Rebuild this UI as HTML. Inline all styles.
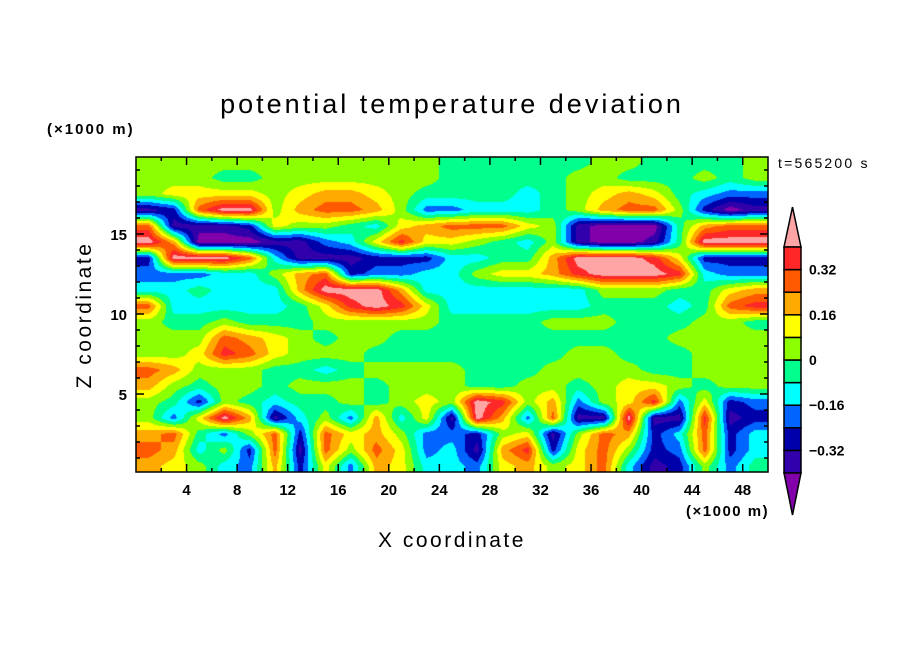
<!DOCTYPE html>
<html><head><meta charset="utf-8"><style>
html,body{margin:0;padding:0;background:#fff;}
body{width:904px;height:654px;position:relative;overflow:hidden;font-family:"Liberation Sans",sans-serif;}
svg text{font-family:"Liberation Sans",sans-serif;}
</style></head><body>
<svg id="chart" width="904" height="654" viewBox="0 0 904 654" xmlns="http://www.w3.org/2000/svg">
<rect width="904" height="654" fill="#fff"/>
<text x="452" y="113" text-anchor="middle" font-size="27" letter-spacing="3" fill="#000">potential temperature deviation</text>
<text x="47" y="134" font-size="15" font-weight="bold" letter-spacing="2" fill="#000">(×1000 m)</text>
<text x="778" y="168" font-size="14" letter-spacing="2.2" fill="#000">t=565200 s</text>
<foreignObject x="136" y="157" width="632" height="315"><canvas xmlns="http://www.w3.org/1999/xhtml" id="field" width="632" height="315" style="display:block"></canvas></foreignObject>
<g id="axes"></g>
<g id="cbar"></g>
<text x="686" y="516" font-size="15" font-weight="bold" letter-spacing="1.5" fill="#000">(×1000 m)</text>
<text x="452" y="547" text-anchor="middle" font-size="21" letter-spacing="2.5" fill="#000">X coordinate</text>
<text transform="translate(91,315) rotate(-90)" text-anchor="middle" font-size="21" letter-spacing="2.5" fill="#000">Z coordinate</text>
</svg>
<script>
// data: potential temperature deviation (units of 0.01 K), rows top (z=19.5 km) to bottom (z=0.5 km), 25 columns of 2 km
const levels = [-40,-32,-24,-16,-8,0,8,16,24,32,40];
const levelColors = ["#8200aa","#3200aa","#0000aa","#0064ff","#00ffff","#00ff8c","#8cff00","#ffff00","#ffaa00","#ff5a00","#ff2828","#ffa5a5"];
const cbarLabels = ["0.32","0.16","0","-0.16","-0.32"];
const cbarLabelValues = [32,16,0,-16,-32];
const xTicks = [4,8,12,16,20,24,28,32,36,40,44,48];
const yTicks = [5,10,15];
const field = [
[4,4,4,4,4,4,4,4,4,4,4,4,-4,-4,-4,-4,-4,-4,4,4,-4,-4,-4,-4,4],
[4,4,4,-4,-4,4,4,4,4,4,4,4,-4,-4,-4,-4,-4,4,4,-4,-4,-4,4,-4,4],
[4,12,12,12,12,4,12,20,20,12,4,-4,-4,-4,-4,-12,-4,4,12,20,12,-4,-12,-20,-20],
[-36,-28,28,45,45,4,20,28,28,20,4,-20,-20,-12,-12,-12,-4,4,20,28,28,4,-28,-45,-36],
[28,-36,-36,-36,-28,12,4,4,-4,-12,12,20,28,28,28,12,4,-36,-45,-45,-45,-4,20,28,28],
[45,20,-45,-45,-45,-36,-36,-20,-12,12,36,12,12,4,-4,-12,4,-36,-45,-45,-36,-4,45,45,45],
[-28,45,45,45,28,-12,-36,-36,-36,-28,-28,-28,-12,-12,-4,-4,20,45,45,45,36,12,-28,-28,-28],
[-20,-20,-20,-12,-12,4,20,28,-28,-20,-20,-12,-12,4,12,12,20,36,45,45,45,36,-12,-20,-20],
[-12,-12,-4,-12,-12,-12,20,45,45,45,20,-12,-12,-12,-12,-12,-12,-12,4,4,4,-4,-4,12,20],
[28,-12,-12,-12,-12,-12,-4,12,36,45,36,12,-12,-12,-12,-12,-12,-12,-4,-4,-4,-12,-4,28,36],
[4,-4,-4,4,-4,-4,-4,4,4,4,4,4,-4,-4,-4,-4,4,4,4,-4,-4,-4,4,4,-4],
[4,4,4,28,20,12,4,-4,4,4,-4,-4,-4,-4,-4,-4,-4,-4,-4,-4,-4,4,4,4,4],
[4,4,12,36,28,12,4,4,4,-4,-4,-4,-4,-4,-4,-4,-4,4,4,-4,-4,-4,4,4,4],
[28,20,4,4,4,-4,-4,-12,-4,4,4,4,4,-4,-4,-4,4,4,4,4,-4,-4,4,4,4],
[20,4,-4,4,4,-4,4,4,4,-4,4,4,4,-4,-4,4,4,-4,4,12,12,4,-4,4,4],
[4,-4,-28,4,-4,-12,-4,-4,4,-4,4,12,4,45,36,4,20,-20,4,12,36,-20,12,-28,-20],
[4,-20,12,45,20,-36,-12,4,-20,20,-12,12,-36,45,20,-20,28,-36,-36,45,-36,-36,36,-36,-28],
[20,28,-4,-20,4,28,-28,28,12,20,4,-20,-20,-28,4,12,-36,4,28,20,-28,-12,28,-28,-12],
[28,20,-12,4,-28,28,-36,28,4,28,12,-20,-12,-36,20,36,-28,12,28,4,-28,-20,28,-28,-12],
[20,12,4,-12,-20,20,-28,12,-20,20,12,-12,-12,-20,12,20,4,12,28,-12,-36,-28,4,-20,-4]
];

const PL=136, PT=157, PW=632, PH=315, PB=PT+PH;
const X0=0, X1=50;
function xScale(v){return PL + (v-X0)/(X1-X0)*PW;}
function zScale(v){return 474 - v*16;}
function colorFor(v){let k=0;while(k<levels.length && v>=levels[k])k++;return levelColors[k];}
function hexRgb(h){return [parseInt(h.substr(1,2),16),parseInt(h.substr(3,2),16),parseInt(h.substr(5,2),16)];}

const nR=field.length, nC=field[0].length;
const cvs=document.getElementById('field');
const ctx=cvs.getContext('2d');
const img=ctx.createImageData(PW,PH);
const cellW=PW/nC;
for(let py=0;py<PH;py++){
  const yAbs=PT+py+0.5;
  const z=(474-yAbs)/16;
  let fr=(19.5-z); if(fr<0)fr=0; if(fr>nR-1)fr=nR-1;
  const r0=Math.floor(fr), r1=Math.min(r0+1,nR-1), ty=fr-r0;
  for(let px=0;px<PW;px++){
    let fc=(px+0.5)/cellW-0.5; if(fc<0)fc=0; if(fc>nC-1)fc=nC-1;
    const c0=Math.floor(fc), c1=Math.min(c0+1,nC-1), tx=fc-c0;
    const v=(field[r0][c0]*(1-tx)+field[r0][c1]*tx)*(1-ty)+(field[r1][c0]*(1-tx)+field[r1][c1]*tx)*ty;
    const rgb=hexRgb(colorFor(v));
    const o=(py*PW+px)*4;
    img.data[o]=rgb[0];img.data[o+1]=rgb[1];img.data[o+2]=rgb[2];img.data[o+3]=255;
  }
}
ctx.putImageData(img,0,0);

const NS="http://www.w3.org/2000/svg";
function mk(tag,attrs,parent){const e=document.createElementNS(NS,tag);for(const k in attrs)e.setAttribute(k,attrs[k]);parent.appendChild(e);return e;}
const axes=document.getElementById('axes');
const frame=mk('rect',{x:PL,y:PT,width:PW,height:PH,fill:'none',stroke:'#000','stroke-width':1.5},axes);


for(let v=2;v<50;v+=2){
  const major=v%4===0, L=major?8:4, x=xScale(v);
  const t1=mk('line',{x1:x,y1:PB,x2:x,y2:PB-L,stroke:'#000','stroke-width':1.5},axes);
  
  
  const t2=mk('line',{x1:x,y1:PT,x2:x,y2:PT+L,stroke:'#000','stroke-width':1.5},axes);
  
  
}
xTicks.forEach(v=>{
  const t=mk('text',{x:xScale(v),y:495,'text-anchor':'middle','font-size':15,'font-weight':'bold',fill:'#000'},axes);
  t.textContent=String(v);
  
  
});
for(let v=1;v<20;v++){
  const major=v%5===0, L=major?8:4, y=zScale(v);
  const t1=mk('line',{x1:PL,y1:y,x2:PL+L,y2:y,stroke:'#000','stroke-width':1.5},axes);
  
  
  const t2=mk('line',{x1:PL+PW,y1:y,x2:PL+PW-L,y2:y,stroke:'#000','stroke-width':1.5},axes);
  
  
}
yTicks.forEach(v=>{
  const t=mk('text',{x:127,y:zScale(v)+6,'text-anchor':'end','font-size':15,'font-weight':'bold',fill:'#000'},axes);
  t.textContent=String(v);
  
  
});
const cb=document.getElementById('cbar');
const CBX=784, CBW=17, CBTOP=247, CBH=22.6;
const nBox=levels.length-1;
function cbY(v){return CBTOP + (levels[levels.length-1]-v)/(levels[1]-levels[0])*CBH;}
const topTri=mk('polygon',{points:`${CBX},${CBTOP} ${CBX+CBW},${CBTOP} ${CBX+CBW/2},207`,fill:levelColors[levelColors.length-1],stroke:'#000','stroke-width':1.5},cb);


for(let k=0;k<nBox;k++){
  const hi=levels[k+1], lo=levels[k];
  const r=mk('rect',{x:CBX,y:cbY(hi),width:CBW,height:cbY(lo)-cbY(hi),fill:levelColors[k+1],stroke:'#000','stroke-width':1.5},cb);
  
  
}
const botY=cbY(levels[0]);
const botTri=mk('polygon',{points:`${CBX},${botY} ${CBX+CBW},${botY} ${CBX+CBW/2},515`,fill:levelColors[0],stroke:'#000','stroke-width':1.5},cb);


cbarLabels.forEach((s,i)=>{
  const t=mk('text',{x:809,y:cbY(cbarLabelValues[i])+5,'font-size':14,'font-weight':'bold',fill:'#000'},cb);
  t.textContent=s.replace('-','\u2212');
  
  
});
</script>
</body></html>
